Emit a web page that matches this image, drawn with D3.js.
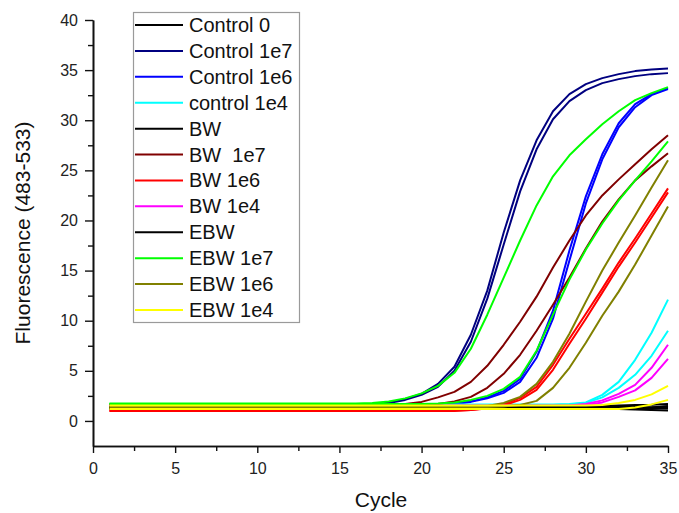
<!DOCTYPE html>
<html>
<head>
<meta charset="utf-8">
<script src="https://cdn.jsdelivr.net/npm/d3@7"></script>
<style>
  body { margin: 0; background: #fff; }
  svg { display: block; }
  text { font-family: "Liberation Sans", Arial, sans-serif; }
</style>
</head>
<body>
<svg id="chart" width="679" height="513"></svg>
<script>
// PCR amplification cycles
const cycles = [1,2,3,4,5,6,7,8,9,10,11,12,13,14,15,16,17,18,19,20,21,22,23,24,25,26,27,28,29,30,31,32,33,34,35];

// Axis ticks
const xTicks = [0,5,10,15,20,25,30,35];
const xMinorTicks = [2.5,7.5,12.5,17.5,22.5,27.5,32.5];
const yTicks = [0,5,10,15,20,25,30,35,40];
const yMinorTicks = [2.5,7.5,12.5,17.5,22.5,27.5,32.5,37.5];

// Fluorescence readings, two replicate wells per sample
const control0_a = [1.45,1.45,1.45,1.45,1.45,1.45,1.45,1.45,1.45,1.45,
                    1.45,1.45,1.45,1.45,1.45,1.45,1.45,1.45,1.45,1.45,
                    1.45,1.45,1.45,1.45,1.45,1.45,1.45,1.45,1.45,1.5,
                    1.52,1.55,1.58,1.62,1.7];
const control0_b = [1.3,1.3,1.3,1.3,1.3,1.3,1.3,1.3,1.3,1.3,
                    1.3,1.3,1.3,1.3,1.3,1.3,1.3,1.3,1.3,1.3,
                    1.3,1.3,1.3,1.3,1.3,1.3,1.3,1.3,1.3,1.3,
                    1.3,1.3,1.3,1.35,1.45];
const control1e7_a = [1.65,1.65,1.65,1.65,1.65,1.65,1.65,1.65,1.65,1.65,
                      1.65,1.65,1.65,1.65,1.65,1.65,1.7,1.85,2.2,2.7,
                      3.7,5.4,8.6,13.0,18.8,24.0,28.0,30.9,32.6,33.6,
                      34.2,34.6,34.9,35.05,35.15];
const control1e7_b = [1.6,1.6,1.6,1.6,1.6,1.6,1.6,1.6,1.6,1.6,
                      1.6,1.6,1.6,1.6,1.6,1.6,1.65,1.8,2.1,2.6,
                      3.4,5.0,7.9,12.2,17.6,22.9,27.1,30.1,31.9,33.0,
                      33.7,34.1,34.4,34.6,34.7];
const control1e6_a = [1.6,1.6,1.6,1.6,1.6,1.6,1.6,1.6,1.6,1.6,
                      1.6,1.6,1.6,1.6,1.6,1.6,1.6,1.6,1.6,1.6,
                      1.65,1.75,1.95,2.35,3.0,4.2,6.9,11.0,17.0,22.4,
                      26.6,29.7,31.6,32.6,33.2];
const control1e6_b = [1.55,1.55,1.55,1.55,1.55,1.55,1.55,1.55,1.55,1.55,
                      1.55,1.55,1.55,1.55,1.55,1.55,1.55,1.55,1.55,1.55,
                      1.6,1.7,1.9,2.25,2.8,3.9,6.3,10.2,16.0,21.7,
                      26.1,29.3,31.3,32.5,33.1];
const control1e4_a = [1.65,1.65,1.65,1.65,1.65,1.65,1.65,1.65,1.65,1.65,
                      1.65,1.65,1.65,1.65,1.65,1.65,1.65,1.65,1.65,1.65,
                      1.65,1.65,1.65,1.65,1.65,1.65,1.65,1.65,1.7,1.85,
                      2.6,3.9,6.1,8.8,12.1];
const control1e4_b = [1.6,1.6,1.6,1.6,1.6,1.6,1.6,1.6,1.6,1.6,
                      1.6,1.6,1.6,1.6,1.6,1.6,1.6,1.6,1.6,1.6,
                      1.6,1.6,1.6,1.6,1.6,1.6,1.6,1.6,1.65,1.8,
                      2.35,3.3,4.6,6.5,9.0];
const bw_a = [1.25,1.25,1.25,1.25,1.25,1.25,1.25,1.25,1.25,1.25,
              1.25,1.25,1.25,1.25,1.25,1.25,1.25,1.25,1.25,1.25,
              1.25,1.25,1.25,1.25,1.25,1.25,1.25,1.25,1.25,1.25,
              1.25,1.25,1.25,1.25,1.3];
const bw_b = [1.2,1.2,1.2,1.2,1.2,1.2,1.2,1.2,1.2,1.2,
              1.2,1.2,1.2,1.2,1.2,1.2,1.2,1.2,1.2,1.2,
              1.2,1.2,1.2,1.2,1.2,1.2,1.2,1.2,1.2,1.2,
              1.2,1.2,1.15,1.1,1.05];
const bw1e7_a = [1.6,1.6,1.6,1.6,1.6,1.6,1.6,1.6,1.6,1.6,
                 1.6,1.6,1.6,1.6,1.6,1.6,1.6,1.6,1.7,1.9,
                 2.35,2.9,3.9,5.5,7.6,9.9,12.4,15.3,18.0,20.5,
                 22.5,24.1,25.6,27.1,28.5];
const bw1e7_b = [1.6,1.6,1.6,1.6,1.6,1.6,1.6,1.6,1.6,1.6,
                 1.6,1.6,1.6,1.6,1.6,1.6,1.6,1.6,1.6,1.6,
                 1.7,1.95,2.4,3.3,4.7,6.6,9.0,11.6,14.3,17.2,
                 19.9,22.1,24.0,25.4,26.7];
const bw1e6_a = [1.0,1.0,1.0,1.0,1.0,1.0,1.0,1.0,1.0,1.0,
                 1.0,1.0,1.0,1.0,1.0,1.0,1.0,1.0,1.0,1.0,
                 1.0,1.0,1.1,1.3,1.65,2.3,3.4,5.6,8.2,10.7,
                 13.2,15.8,18.2,20.7,23.2];
const bw1e6_b = [1.05,1.05,1.05,1.05,1.05,1.05,1.05,1.05,1.05,1.05,
                 1.05,1.05,1.05,1.05,1.05,1.05,1.05,1.05,1.05,1.05,
                 1.05,1.05,1.1,1.25,1.55,2.1,3.1,5.1,7.7,10.2,
                 12.8,15.4,17.8,20.3,22.8];
const bw1e4_a = [1.55,1.55,1.55,1.55,1.55,1.55,1.55,1.55,1.55,1.55,
                 1.55,1.55,1.55,1.55,1.55,1.55,1.55,1.55,1.55,1.55,
                 1.55,1.55,1.55,1.55,1.55,1.55,1.55,1.55,1.55,1.7,
                 2.05,2.7,3.6,5.3,7.6];
const bw1e4_b = [1.5,1.5,1.5,1.5,1.5,1.5,1.5,1.5,1.5,1.5,
                 1.5,1.5,1.5,1.5,1.5,1.5,1.5,1.5,1.5,1.5,
                 1.5,1.5,1.5,1.5,1.5,1.5,1.5,1.5,1.5,1.6,
                 1.85,2.4,3.05,4.3,6.2];
const ebw_a = [1.35,1.35,1.35,1.35,1.35,1.35,1.35,1.35,1.35,1.35,
               1.35,1.35,1.35,1.35,1.35,1.35,1.35,1.35,1.35,1.35,
               1.35,1.35,1.35,1.35,1.35,1.35,1.35,1.35,1.35,1.35,
               1.35,1.35,1.35,1.35,1.5];
const ebw_b = [1.4,1.4,1.4,1.4,1.4,1.4,1.4,1.4,1.4,1.4,
               1.4,1.4,1.4,1.4,1.4,1.4,1.4,1.4,1.4,1.4,
               1.4,1.4,1.4,1.4,1.4,1.4,1.4,1.4,1.4,1.4,
               1.4,1.4,1.4,1.35,1.25];
const ebw1e7_a = [1.75,1.75,1.75,1.75,1.75,1.75,1.75,1.75,1.75,1.75,
                  1.75,1.75,1.75,1.75,1.75,1.75,1.8,1.95,2.25,2.75,
                  3.5,4.8,7.2,10.6,14.3,18.0,21.5,24.4,26.5,28.1,
                  29.6,30.9,32.0,32.7,33.3];
const ebw1e7_b = [1.7,1.7,1.7,1.7,1.7,1.7,1.7,1.7,1.7,1.7,
                  1.7,1.7,1.7,1.7,1.7,1.7,1.7,1.7,1.7,1.7,
                  1.75,1.85,2.1,2.5,3.2,4.4,7.0,10.6,14.1,17.1,
                  19.7,22.0,24.0,25.9,27.9];
const ebw1e6_a = [1.4,1.4,1.4,1.4,1.4,1.4,1.4,1.4,1.4,1.4,
                  1.4,1.4,1.4,1.4,1.4,1.4,1.4,1.4,1.4,1.4,
                  1.4,1.4,1.4,1.5,1.8,2.4,3.7,5.9,8.7,11.9,
                  15.0,17.8,20.5,23.3,26.0];
const ebw1e6_b = [1.4,1.4,1.4,1.4,1.4,1.4,1.4,1.4,1.4,1.4,
                  1.4,1.4,1.4,1.4,1.4,1.4,1.4,1.4,1.4,1.4,
                  1.4,1.4,1.4,1.4,1.45,1.6,2.0,3.3,5.3,7.8,
                  10.5,12.9,15.6,18.5,21.4];
const ebw1e4_a = [1.55,1.55,1.55,1.55,1.55,1.55,1.55,1.55,1.55,1.55,
                  1.55,1.55,1.55,1.55,1.55,1.55,1.55,1.55,1.55,1.55,
                  1.55,1.55,1.55,1.55,1.55,1.55,1.55,1.55,1.55,1.55,
                  1.6,1.8,2.1,2.65,3.5];
const ebw1e4_b = [1.2,1.2,1.2,1.2,1.2,1.2,1.2,1.2,1.2,1.2,
                  1.2,1.2,1.2,1.2,1.2,1.2,1.2,1.2,1.2,1.2,
                  1.2,1.2,1.2,1.2,1.2,1.2,1.2,1.2,1.2,1.2,
                  1.2,1.2,1.35,1.65,2.1];

// Legend order, labels and colours
const sampleNames = ["Control 0","Control 1e7","Control 1e6","control 1e4",
                     "BW","BW  1e7","BW 1e6","BW 1e4",
                     "EBW","EBW 1e7","EBW 1e6","EBW 1e4"];
const sampleColors = ["#000000","#000080","#0000ff","#00ffff",
                      "#000000","#800000","#ff0000","#ff00ff",
                      "#000000","#00ff00","#808000","#ffff00"];
const sampleReplicates = [
  [control0_a, control0_b], [control1e7_a, control1e7_b],
  [control1e6_a, control1e6_b], [control1e4_a, control1e4_b],
  [bw_a, bw_b], [bw1e7_a, bw1e7_b], [bw1e6_a, bw1e6_b], [bw1e4_a, bw1e4_b],
  [ebw_a, ebw_b], [ebw1e7_a, ebw1e7_b], [ebw1e6_a, ebw1e6_b], [ebw1e4_a, ebw1e4_b]
];

const samples = sampleNames.map((name, i) => ({
  name, color: sampleColors[i], reps: sampleReplicates[i]
}));

const svg = d3.select("#chart");

const x = d3.scaleLinear().domain([0, 35]).range([93, 668]);
const y = d3.scaleLinear().domain([-2.5, 40]).range([446, 20]);

const line = d3.line()
  .x((d, i) => x(cycles[i]))
  .y(d => y(d));

// amplification curves, in legend order
const curves = svg.append("g").attr("fill", "none").attr("stroke-width", 2);
samples.forEach(s => {
  s.reps.forEach(r => {
    curves.append("path")
      .attr("d", line(r))
      .attr("stroke", s.color)
      .attr("stroke-linejoin", "round");
  });
});

// axes
function styleAxis(g) {
  g.select(".domain").attr("stroke", "#111").attr("stroke-width", 1.6);
  g.selectAll(".tick line").attr("stroke", "#111").attr("stroke-width", 1.4);
  g.selectAll(".tick text").attr("fill", "#222").style("font-size", "16px")
    .style("font-family", '"Liberation Sans", Arial, sans-serif');
}

svg.append("g")
  .attr("transform", "translate(0,446)")
  .call(d3.axisBottom(x).tickValues(xMinorTicks).tickSize(5).tickSizeOuter(0).tickFormat(""))
  .call(styleAxis);
svg.append("g")
  .attr("transform", "translate(0,446)")
  .call(d3.axisBottom(x).tickValues(xTicks).tickSize(7).tickSizeOuter(0).tickPadding(10).tickFormat(d3.format("d")))
  .call(styleAxis);

svg.append("g")
  .attr("transform", "translate(93,0)")
  .call(d3.axisLeft(y).tickValues(yMinorTicks).tickSize(5).tickSizeOuter(0).tickFormat(""))
  .call(styleAxis);
svg.append("g")
  .attr("transform", "translate(93,0)")
  .call(d3.axisLeft(y).tickValues(yTicks).tickSize(8).tickSizeOuter(0).tickPadding(7).tickFormat(d3.format("d")))
  .call(styleAxis);

// axis titles
svg.append("text")
  .attr("x", 381).attr("y", 507)
  .attr("text-anchor", "middle")
  .attr("fill", "#111")
  .style("font-size", "21px")
  .text("Cycle");

svg.append("text")
  .attr("transform", "translate(30,233) rotate(-90)")
  .attr("text-anchor", "middle")
  .attr("fill", "#111")
  .style("font-size", "21px")
  .text("Fluorescence (483-533)");

// legend
const legendY = d3.scalePoint().domain(sampleNames).range([25, 310]);
const legend = svg.append("g");
legend.append("rect")
  .attr("x", 133.5).attr("y", 12.5)
  .attr("width", 166).attr("height", 310)
  .attr("fill", "#fff")
  .attr("stroke", "#9a9a9a")
  .attr("stroke-width", 1.2);

const rows = legend.selectAll("g.row").data(samples).join("g")
  .attr("class", "row")
  .attr("transform", d => `translate(0,${legendY(d.name)})`);
rows.append("line")
  .attr("x1", 135).attr("x2", 183)
  .attr("stroke", d => d.color)
  .attr("stroke-width", 2);
rows.append("text")
  .attr("x", 189)
  .attr("dy", "0.35em")
  .attr("fill", "#111")
  .style("font-size", "20px")
  .style("white-space", "pre")
  .text(d => d.name);
</script>
</body>
</html>
